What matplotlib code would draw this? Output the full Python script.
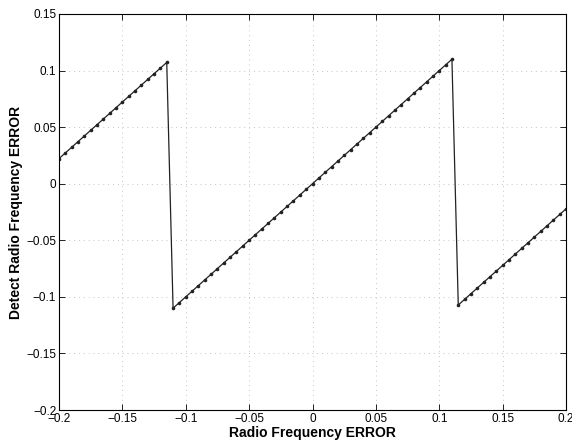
import matplotlib

matplotlib.use("Agg")
import matplotlib.pyplot as plt

plt.rcParams["font.family"] = ["Liberation Sans", "DejaVu Sans"]

freq_error = [
    -0.200, -0.195, -0.190, -0.185, -0.180, -0.175, -0.170, -0.165, -0.160, -0.155,
    -0.150, -0.145, -0.140, -0.135, -0.130, -0.125, -0.120, -0.115, -0.110, -0.105,
    -0.100, -0.095, -0.090, -0.085, -0.080, -0.075, -0.070, -0.065, -0.060, -0.055,
    -0.050, -0.045, -0.040, -0.035, -0.030, -0.025, -0.020, -0.015, -0.010, -0.005,
    0.000, 0.005, 0.010, 0.015, 0.020, 0.025, 0.030, 0.035, 0.040, 0.045,
    0.050, 0.055, 0.060, 0.065, 0.070, 0.075, 0.080, 0.085, 0.090, 0.095,
    0.100, 0.105, 0.110, 0.115, 0.120, 0.125, 0.130, 0.135, 0.140, 0.145,
    0.150, 0.155, 0.160, 0.165, 0.170, 0.175, 0.180, 0.185, 0.190, 0.195,
    0.200,
]
detected_error = [
    0.0222, 0.0272, 0.0322, 0.0372, 0.0422, 0.0472, 0.0522, 0.0572, 0.0622, 0.0672,
    0.0722, 0.0772, 0.0822, 0.0872, 0.0922, 0.0972, 0.1022, 0.1072, -0.110, -0.105,
    -0.100, -0.095, -0.090, -0.085, -0.080, -0.075, -0.070, -0.065, -0.060, -0.055,
    -0.050, -0.045, -0.040, -0.035, -0.030, -0.025, -0.020, -0.015, -0.010, -0.005,
    0.000, 0.005, 0.010, 0.015, 0.020, 0.025, 0.030, 0.035, 0.040, 0.045,
    0.050, 0.055, 0.060, 0.065, 0.070, 0.075, 0.080, 0.085, 0.090, 0.095,
    0.100, 0.105, 0.110, -0.1072, -0.1022, -0.0972, -0.0922, -0.0872, -0.0822, -0.0772,
    -0.0722, -0.0672, -0.0622, -0.0572, -0.0522, -0.0472, -0.0422, -0.0372, -0.0322, -0.0272,
    -0.0222,
]
x_ticks = [-0.2, -0.15, -0.1, -0.05, 0, 0.05, 0.1, 0.15, 0.2]
y_ticks = [-0.2, -0.15, -0.1, -0.05, 0, 0.05, 0.1, 0.15]


def _fmt(v):
    return "0" if v == 0 else f"{v:g}".replace("-", "\u2212")


fig = plt.figure(figsize=(5.72, 4.44), dpi=100)
ax = fig.add_axes([59 / 572, 1 - 410 / 444, 507 / 572, 396 / 444])
ax.plot(freq_error, detected_error, color="#222222", linewidth=0.9,
        marker="o", markersize=2.6, markerfacecolor="#222222", markeredgewidth=0)

ax.set_xlim(-0.2, 0.2)
ax.set_ylim(-0.2, 0.15)
ax.set_xticks(x_ticks)
ax.set_yticks(y_ticks)
ax.set_xticklabels([_fmt(v) for v in x_ticks], fontsize=8.5)
ax.set_yticklabels([_fmt(v) for v in y_ticks], fontsize=8.5)
ax.tick_params(direction="in", top=True, right=True, length=4, width=0.6, pad=2)
ax.grid(True, linestyle=(0, (1, 4)), color="#c4c4c4", linewidth=0.7)
for spine in ax.spines.values():
    spine.set_linewidth(0.8)

ax.set_xlabel("Radio Frequency ERROR", fontsize=10, fontweight="bold", labelpad=1)
ax.set_ylabel("Detect Radio Frequency ERROR", fontsize=10, fontweight="bold", labelpad=2)

fig.savefig("out.png", dpi=100)
plt.close(fig)
